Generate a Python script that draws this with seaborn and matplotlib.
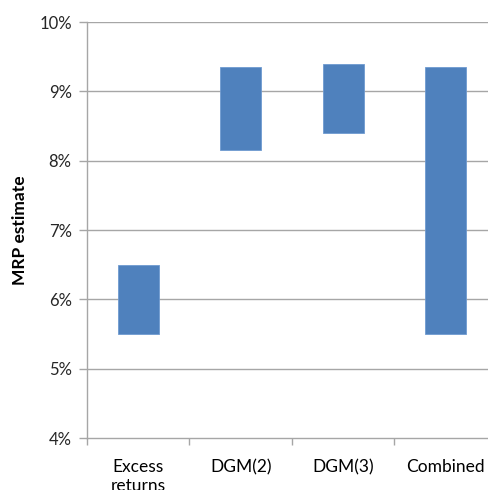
import matplotlib
matplotlib.use("Agg")
import matplotlib.pyplot as plt
from matplotlib.ticker import FuncFormatter, MultipleLocator
import numpy as np
import pandas as pd
import seaborn as sns

# MRP estimate ranges (percent) for each approach
categories = ["Excess\nreturns", "DGM(2)", "DGM(3)", "Combined"]
low_values = [5.5, 8.15, 8.4, 5.5]
high_values = [6.5, 9.35, 9.4, 9.35]
y_ticks = [4, 5, 6, 7, 8, 9, 10]

sns.set_theme(style="white")
plt.rcParams["font.family"] = ["Lato", "DejaVu Sans"]

df = pd.DataFrame({
    "category": categories,
    "low": low_values,
    "span": np.array(high_values) - np.array(low_values),
})

fig = plt.figure(figsize=(4.89, 4.90), dpi=100)
ax = fig.add_axes([87 / 489, 52 / 490, 410 / 489, 416 / 490])

grid_color = "#a6a6a6"
for t in y_ticks[1:]:
    ax.axhline(t, color=grid_color, lw=1.0, zorder=0)

sns.barplot(data=df, x="category", y="span", bottom=df["low"], color="#4f81bd",
            saturation=1, width=0.4, edgecolor="#6f9ad0", linewidth=0.6,
            ax=ax, zorder=2)

ax.set_ylim(4, 10)
ax.set_xlim(-0.5, 3.5)
ax.yaxis.set_major_locator(MultipleLocator(1))
ax.yaxis.set_major_formatter(FuncFormatter(lambda v, p: f"{v:.0f}%"))

ax.set_xlabel("")
ax.set_ylabel("MRP estimate", fontsize=12.5, fontweight="bold", labelpad=8, color="#000000")

for s in ["top", "right"]:
    ax.spines[s].set_visible(False)
for s in ["left", "bottom"]:
    ax.spines[s].set_color(grid_color)
    ax.spines[s].set_linewidth(1.0)

ax.tick_params(axis="y", which="major", left=True, length=6, width=1.0,
               color=grid_color, labelsize=12, labelcolor="#262626", pad=5)
ax.tick_params(axis="x", which="major", bottom=False, labelsize=12.5,
               labelcolor="#000000", pad=9)

# category boundary ticks along the x axis
ax.set_xticks(np.arange(-0.5, 3.6, 1.0), minor=True)
ax.tick_params(axis="x", which="minor", bottom=True, length=5, width=1.0,
               color=grid_color, direction="out")

for lbl in ax.get_xticklabels():
    lbl.set_linespacing(1.25)
    lbl.set_verticalalignment("top")

fig.savefig("out.png", dpi=100)
